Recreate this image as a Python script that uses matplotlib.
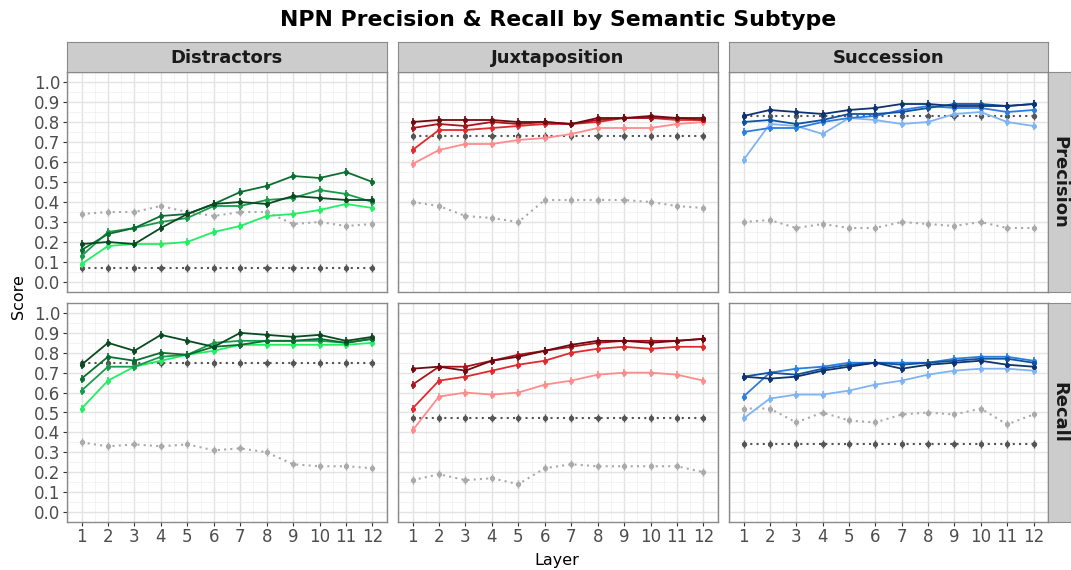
import matplotlib
matplotlib.use("Agg")
import matplotlib.pyplot as plt
from matplotlib.ticker import MultipleLocator

layers = list(range(1, 13))
subtypes = ["Distractors", "Juxtaposition", "Succession"]
metrics = ["Precision", "Recall"]

# Precision
dis_p_1 = [0.19, 0.20, 0.19, 0.27, 0.34, 0.39, 0.40, 0.39, 0.43, 0.42, 0.41, 0.41]
dis_p_2 = [0.16, 0.24, 0.27, 0.33, 0.34, 0.39, 0.45, 0.48, 0.53, 0.52, 0.55, 0.50]
dis_p_3 = [0.13, 0.25, 0.27, 0.30, 0.32, 0.38, 0.38, 0.41, 0.42, 0.46, 0.44, 0.40]
dis_p_4 = [0.09, 0.18, 0.19, 0.19, 0.20, 0.25, 0.28, 0.33, 0.34, 0.36, 0.39, 0.37]
dis_p_rand = [0.34, 0.35, 0.35, 0.38, 0.35, 0.33, 0.35, 0.35, 0.29, 0.30, 0.28, 0.29]
dis_p_base = [0.07] * 12

jux_p_1 = [0.80, 0.81, 0.81, 0.81, 0.80, 0.80, 0.79, 0.82, 0.82, 0.83, 0.82, 0.82]
jux_p_2 = [0.77, 0.79, 0.78, 0.80, 0.79, 0.80, 0.79, 0.81, 0.82, 0.82, 0.82, 0.81]
jux_p_3 = [0.66, 0.76, 0.76, 0.77, 0.78, 0.79, 0.79, 0.80, 0.82, 0.82, 0.81, 0.81]
jux_p_4 = [0.59, 0.66, 0.69, 0.69, 0.71, 0.72, 0.74, 0.77, 0.77, 0.77, 0.79, 0.80]
jux_p_rand = [0.40, 0.38, 0.33, 0.32, 0.30, 0.41, 0.41, 0.41, 0.41, 0.40, 0.38, 0.37]
jux_p_base = [0.73] * 12

suc_p_1 = [0.83, 0.86, 0.85, 0.84, 0.86, 0.87, 0.89, 0.89, 0.88, 0.88, 0.88, 0.89]
suc_p_2 = [0.80, 0.81, 0.79, 0.81, 0.84, 0.84, 0.85, 0.87, 0.89, 0.89, 0.88, 0.89]
suc_p_3 = [0.75, 0.77, 0.77, 0.80, 0.82, 0.83, 0.86, 0.88, 0.87, 0.87, 0.85, 0.86]
suc_p_4 = [0.61, 0.79, 0.78, 0.74, 0.82, 0.81, 0.79, 0.80, 0.84, 0.85, 0.80, 0.78]
suc_p_rand = [0.30, 0.31, 0.27, 0.29, 0.27, 0.27, 0.30, 0.29, 0.28, 0.30, 0.27, 0.27]
suc_p_base = [0.83] * 12

# Recall
dis_r_1 = [0.74, 0.85, 0.81, 0.89, 0.86, 0.83, 0.90, 0.89, 0.88, 0.89, 0.86, 0.88]
dis_r_2 = [0.67, 0.78, 0.76, 0.80, 0.79, 0.83, 0.84, 0.86, 0.86, 0.87, 0.85, 0.87]
dis_r_3 = [0.61, 0.73, 0.73, 0.78, 0.79, 0.85, 0.86, 0.86, 0.86, 0.86, 0.85, 0.87]
dis_r_4 = [0.52, 0.66, 0.73, 0.76, 0.79, 0.81, 0.84, 0.84, 0.84, 0.84, 0.84, 0.85]
dis_r_rand = [0.35, 0.33, 0.34, 0.33, 0.34, 0.31, 0.32, 0.30, 0.24, 0.23, 0.23, 0.22]
dis_r_base = [0.75] * 12

jux_r_1 = [0.72, 0.73, 0.71, 0.76, 0.78, 0.81, 0.84, 0.86, 0.86, 0.85, 0.86, 0.87]
jux_r_2 = [0.64, 0.73, 0.73, 0.76, 0.79, 0.81, 0.83, 0.85, 0.86, 0.86, 0.86, 0.87]
jux_r_3 = [0.52, 0.66, 0.68, 0.71, 0.74, 0.76, 0.80, 0.82, 0.83, 0.82, 0.83, 0.83]
jux_r_4 = [0.41, 0.58, 0.60, 0.59, 0.60, 0.64, 0.66, 0.69, 0.70, 0.70, 0.69, 0.66]
jux_r_rand = [0.16, 0.19, 0.16, 0.17, 0.14, 0.22, 0.24, 0.23, 0.23, 0.23, 0.23, 0.20]
jux_r_base = [0.47] * 12

suc_r_1 = [0.68, 0.67, 0.68, 0.71, 0.73, 0.75, 0.72, 0.74, 0.75, 0.76, 0.74, 0.73]
suc_r_2 = [0.68, 0.70, 0.69, 0.72, 0.74, 0.75, 0.74, 0.75, 0.76, 0.77, 0.77, 0.75]
suc_r_3 = [0.58, 0.70, 0.72, 0.73, 0.75, 0.75, 0.75, 0.75, 0.77, 0.78, 0.78, 0.76]
suc_r_4 = [0.47, 0.57, 0.59, 0.59, 0.61, 0.64, 0.66, 0.69, 0.71, 0.72, 0.72, 0.71]
suc_r_rand = [0.52, 0.52, 0.45, 0.50, 0.46, 0.45, 0.49, 0.50, 0.49, 0.52, 0.44, 0.49]
suc_r_base = [0.34] * 12

greens = ["#0a4a22", "#0b6e30", "#1b9a4b", "#22ee62"]
reds = ["#6e0a10", "#a8141a", "#e02a2e", "#ff8c8c"]
blues = ["#0d3370", "#0f52a0", "#2b7ddf", "#80b3f2"]

data = {
    ("Precision", "Distractors"): ([dis_p_1, dis_p_2, dis_p_3, dis_p_4], dis_p_rand, dis_p_base, greens),
    ("Precision", "Juxtaposition"): ([jux_p_1, jux_p_2, jux_p_3, jux_p_4], jux_p_rand, jux_p_base, reds),
    ("Precision", "Succession"): ([suc_p_1, suc_p_2, suc_p_3, suc_p_4], suc_p_rand, suc_p_base, blues),
    ("Recall", "Distractors"): ([dis_r_1, dis_r_2, dis_r_3, dis_r_4], dis_r_rand, dis_r_base, greens),
    ("Recall", "Juxtaposition"): ([jux_r_1, jux_r_2, jux_r_3, jux_r_4], jux_r_rand, jux_r_base, reds),
    ("Recall", "Succession"): ([suc_r_1, suc_r_2, suc_r_3, suc_r_4], suc_r_rand, suc_r_base, blues),
}

W, H = 1071, 570
plt.rcParams['font.family'] = ['DejaVu Sans']
fig = plt.figure(figsize=(W / 100, H / 100), dpi=100)

col_x = [(67, 387), (398, 718), (729, 1048)]
row_y = [(72, 292), (303, 522)]
err = 0.02

def fx(px):
    return px / W

def fy(py):
    return 1 - py / H

for r, met in enumerate(metrics):
    for c, sub in enumerate(subtypes):
        x0, x1 = col_x[c]
        y0, y1 = row_y[r]
        ax = fig.add_axes([fx(x0), fy(y1), fx(x1 - x0), (y1 - y0) / H])
        series, rand, base, cols = data[(met, sub)]
        ax.set_xlim(0.45, 12.55)
        ax.set_ylim(-0.05, 1.05)
        ax.xaxis.set_major_locator(MultipleLocator(1))
        ax.xaxis.set_minor_locator(MultipleLocator(0.5))
        ax.yaxis.set_major_locator(MultipleLocator(0.1))
        ax.yaxis.set_minor_locator(MultipleLocator(0.05))
        ax.grid(which="major", color="#e3e3e3", linewidth=1.0)
        ax.grid(which="minor", color="#f1f1f1", linewidth=0.6)
        ax.set_axisbelow(True)
        for s in ax.spines.values():
            s.set_color("#8a8a8a")
            s.set_linewidth(1.0)
        ax.tick_params(which="minor", length=0)
        ax.tick_params(which="major", length=3, color="#333333", width=0.8,
                       labelsize=12, labelcolor="#4d4d4d", pad=2)
        ax.tick_params(axis="x", pad=1.5)
        # baselines
        ax.errorbar(layers, base, yerr=err, color="#555555", linestyle=(0, (1, 2)),
                    linewidth=1.5, marker="o", markersize=2.8, elinewidth=1, capsize=0, zorder=2)
        ax.errorbar(layers, rand, yerr=err, color="#aaaaaa", linestyle=(0, (1, 2)),
                    linewidth=1.5, marker="o", markersize=2.8, elinewidth=1, capsize=0, zorder=2)
        for vals, col in zip(series[::-1], cols[::-1]):
            ax.errorbar(layers, vals, yerr=err, color=col, linewidth=1.3,
                        marker="o", markersize=2.6, elinewidth=1.2, capsize=0, zorder=3)
        if c != 0:
            ax.set_yticklabels([])
            ax.tick_params(axis="y", length=0)
        if r == 0:
            ax.set_xticklabels([])
            ax.tick_params(axis="x", length=0)
        else:
            ax.set_xticks(layers)
            ax.set_xticklabels([str(l) for l in layers])

        if r == 0:
            sax = fig.add_axes([fx(x0), fy(72), fx(x1 - x0), 30 / H])
            sax.set_xticks([]); sax.set_yticks([])
            sax.set_facecolor("#cccccc")
            for s in sax.spines.values():
                s.set_color("#8a8a8a")
            sax.text(0.5, 0.47, sub, ha="center", va="center", fontsize=13,
                     fontweight="bold", color="#1a1a1a", transform=sax.transAxes)
        if c == 2:
            sax = fig.add_axes([fx(1048), fy(y1), fx(23), (y1 - y0) / H])
            sax.set_xticks([]); sax.set_yticks([])
            sax.set_facecolor("#cccccc")
            for s in sax.spines.values():
                s.set_color("#8a8a8a")
            sax.text(0.5, 0.5, met, ha="center", va="center", fontsize=13,
                     fontweight="bold", color="#1a1a1a", rotation=-90,
                     transform=sax.transAxes)

fig.text(fx(558), fy(20), "NPN Precision & Recall by Semantic Subtype", ha="center",
         va="center", fontsize=15.8, fontweight="bold", color="black")
fig.text(fx(18), fy(297), "Score", ha="center", va="center", rotation=90, fontsize=11.5)
fig.text(fx(557), fy(560), "Layer", ha="center", va="center", fontsize=11.5)

fig.savefig("out.png", dpi=100)
